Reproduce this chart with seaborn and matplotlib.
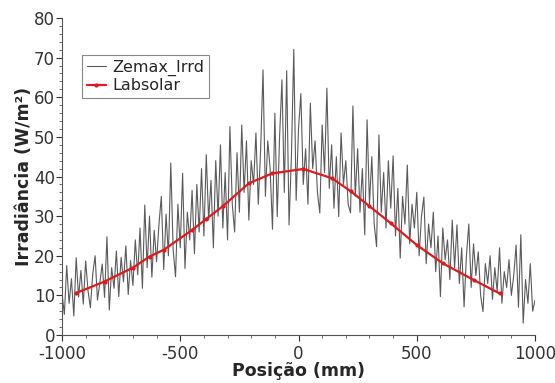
import numpy as np
import pandas as pd
import matplotlib.pyplot as plt
from matplotlib.ticker import MultipleLocator
import seaborn as sns

zemax_x = list(range(-1000, 1001, 10))
zemax_y = [
    10.5, 5.2, 17.5, 8.0, 14.2, 4.8, 19.5, 9.6, 16.3, 7.8,
    18.7, 11.2, 6.9, 15.4, 20.0, 8.8, 13.1, 17.9, 9.5, 24.8,
    6.3, 17.0, 11.8, 21.2, 9.7, 19.6, 13.4, 22.5, 10.2, 18.8,
    12.5, 24.0, 15.2, 27.0, 11.8, 32.8, 17.0, 30.0, 14.6, 26.4,
    18.5, 28.0, 35.0, 16.5, 30.5, 20.0, 43.4, 21.5, 14.7, 33.0,
    22.0, 40.8, 16.8, 31.0, 24.0, 36.5, 20.5, 38.0, 26.0, 42.0,
    25.0, 45.5, 29.0, 39.0, 22.0, 44.0, 30.0, 48.0, 27.0, 41.0,
    24.0, 52.6, 33.0, 26.0, 46.0, 31.0, 53.0, 36.0, 49.0, 29.0,
    44.0, 38.0, 51.0, 33.0, 47.0, 66.9, 35.0, 49.0, 42.0, 26.7,
    56.0, 29.9, 50.0, 64.4, 36.0, 66.7, 27.8, 45.0, 72.1, 34.0,
    52.0, 60.9, 38.0, 47.0, 33.0, 58.5, 42.0, 49.0, 36.0, 30.8,
    53.0, 41.0, 62.3, 37.0, 48.0, 32.0, 45.0, 29.9, 51.0, 38.0,
    44.0, 33.0, 30.8, 57.8, 35.0, 47.0, 31.0, 42.0, 25.3, 54.3,
    33.0, 45.0, 28.0, 22.3, 50.5, 31.0, 41.0, 27.0, 44.0, 32.0,
    45.2, 25.0, 37.0, 19.4, 35.0, 28.0, 42.9, 23.0, 33.0, 27.0,
    36.0, 20.0, 30.0, 34.8, 18.0, 28.0, 22.0, 31.0, 16.0, 25.0,
    9.7, 27.0, 19.0, 24.0, 14.0, 29.0, 17.0, 27.8, 13.0, 22.0,
    7.1, 20.0, 28.0, 12.0, 23.0, 15.0, 21.0, 10.0, 5.9, 18.0,
    13.0, 20.0, 9.0, 17.0, 11.0, 22.0, 8.0, 16.0, 12.0, 19.0,
    10.0, 15.0, 22.7, 7.0, 25.3, 3.0, 14.0, 8.0, 18.0, 6.0,
    8.8,
]

# Labsolar measured irradiance
labsolar_x = [-940, -820, -700, -630, -570, -450, -390, -320, -210, -110,
              20, 140, 220, 300, 390, 500, 610, 740, 850]
labsolar_y = [10.6, 13.5, 17.0, 19.8, 21.5, 26.5, 29.3, 32.5, 38.3, 40.8,
              41.9, 39.6, 36.3, 32.5, 28.2, 22.7, 18.1, 13.9, 10.5]

zemax = pd.DataFrame({"pos": zemax_x, "irr": zemax_y})
labsolar = pd.DataFrame({"pos": labsolar_x, "irr": labsolar_y})

sns.set_style("ticks")
plt.rcParams["font.family"] = ["DejaVu Sans"]
plt.rcParams["axes.unicode_minus"] = False

fig = plt.figure(figsize=(5.55, 3.83), dpi=100)
ax = fig.add_axes([0.1117, 0.1253, 0.8523, 0.8277])

sns.lineplot(data=zemax, x="pos", y="irr", ax=ax, color="#5a5a5a",
             linewidth=0.8, label="Zemax_Irrd")
sns.lineplot(data=labsolar, x="pos", y="irr", ax=ax, color="#e0191e",
             linewidth=1.6, marker="o", markersize=3, markeredgewidth=0,
             label="Labsolar")

ax.set_xlim(-1000, 1000)
ax.set_ylim(0, 80)
ax.xaxis.set_major_locator(MultipleLocator(500))
ax.xaxis.set_minor_locator(MultipleLocator(100))
ax.yaxis.set_major_locator(MultipleLocator(10))
ax.yaxis.set_minor_locator(MultipleLocator(2))
ax.tick_params(which="major", length=4, width=0.8, labelsize=12, pad=1,
               colors="#333333")
ax.tick_params(axis="x", which="major", pad=3.5)
ax.tick_params(which="minor", length=2, width=0.6, colors="#555555")

for side in ["top", "right"]:
    ax.spines[side].set_visible(False)
for side in ["left", "bottom"]:
    ax.spines[side].set_color("#555555")

ax.set_xlabel("Posição (mm)", fontsize=12.5, fontweight="bold", labelpad=-1)
ax.set_ylabel("Irradiância (W/m²)", fontsize=12.5, fontweight="bold", labelpad=1)

leg = ax.legend(loc="upper left", bbox_to_anchor=(0.042, 0.883), borderaxespad=0,
                fontsize=11.5, fancybox=False, framealpha=1, handlelength=1.2,
                handletextpad=0.4, borderpad=0.3, labelspacing=0.15)
leg.get_frame().set_edgecolor("#888888")
leg.get_frame().set_linewidth(0.8)

fig.savefig("out.png", dpi=100)
